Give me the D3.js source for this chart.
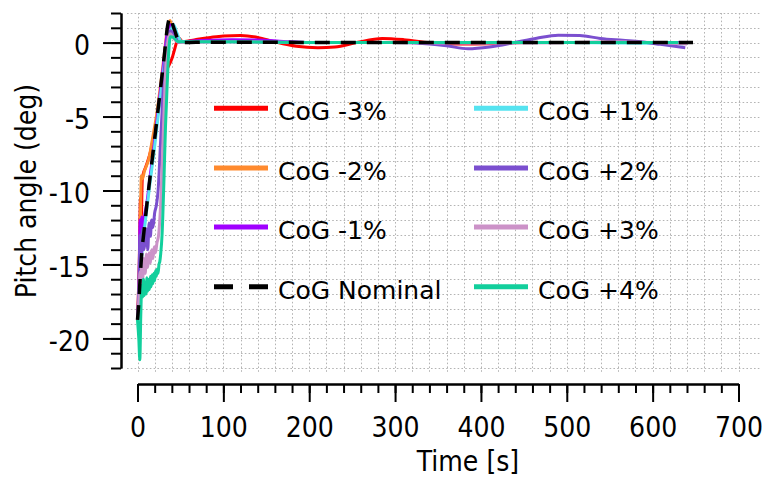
<!DOCTYPE html>
<html>
<head>
<meta charset="utf-8">
<script src="https://cdn.jsdelivr.net/npm/d3@7/dist/d3.min.js"></script>
<style>
  html, body { margin: 0; padding: 0; background: #fff; }
  svg { display: block; }
  .tick-label { font-family: 'DejaVu Sans Condensed', 'DejaVu Sans', sans-serif; font-stretch: condensed; font-size: 28px; fill: #000; }
  .axis-title { font-family: 'DejaVu Sans Condensed', 'DejaVu Sans', sans-serif; font-stretch: condensed; font-size: 28px; fill: #000; }
  .legend-text { font-family: 'DejaVu Sans', sans-serif; font-size: 25px; fill: #000; }
</style>
</head>
<body>
<svg id="chart" width="766" height="478"></svg>
<script>
// ---------------- DATA ----------------
const xMajorTicks = [0, 100, 200, 300, 400, 500, 600, 700];
const yMajorTicks = [-20, -15, -10, -5, 0];
const xDomain = [0, 700];
const yDomain = [-22, 2];

const seriesLabels = ["CoG -3%", "CoG -2%", "CoG -1%", "CoG Nominal", "CoG +1%", "CoG +2%", "CoG +3%", "CoG +4%"];
const seriesColors = ["#ff0000", "#ff8a2e", "#a000ff", "#000000", "#55e3f0", "#7b4fcf", "#cc92c8", "#12cf9c"];

const tM3 = [0, 2, 3.5, 4.5, 5.5, 7, 9, 12, 15, 19, 23, 27, 30.7, 32.6, 36, 40, 43, 46, 48.5, 52, 60, 70, 85, 100, 120, 140, 160, 185, 210, 230, 255, 285, 310, 340, 375, 410, 450, 500, 550, 600, 645];
const vM3 = [-18.75, -15, -10.5, -11.8, -9.3, -8.8, -8.5, -8.0, -7.4, -6.3, -5.0, -3.6, -2.4, -2.0, -1.6, -1.1, -0.5, 0.1, 0.3, 0.08, 0.12, 0.22, 0.35, 0.45, 0.48, 0.35, 0.05, -0.25, -0.35, -0.3, 0.0, 0.28, 0.2, 0.0, -0.1, -0.08, 0.0, 0.0, 0.0, 0.0, 0.0];

const tM2 = [0, 2, 3.5, 4.5, 6, 8, 10, 13, 16, 19, 23, 27, 31, 35, 38, 41, 45, 49, 55, 80, 120, 200, 300, 400, 500, 600, 645];
const vM2 = [-18.75, -16, -11.5, -9.0, -9.2, -8.7, -8.4, -7.9, -7.0, -6.0, -4.6, -2.8, -0.9, 1.0, 1.5, 0.8, 0.3, 0.0, 0.05, 0.08, 0.08, 0.0, 0.0, 0.0, 0.0, 0.0, 0.0];

const tM1 = [0, 2, 3, 4, 5, 6.5, 8, 11, 15, 19, 23, 27, 31, 35, 38, 41, 45, 49, 55, 80, 110, 140, 170, 200, 300, 400, 500, 600, 645];
const vM1 = [-18.75, -16, -12.0, -13.2, -11.8, -12.5, -11.8, -10.8, -8.9, -7.1, -5.1, -3.1, -1.1, 0.8, 1.2, 0.7, 0.3, 0.0, 0.05, 0.15, 0.2, 0.18, 0.08, 0.0, 0.0, 0.0, 0.0, 0.0, 0.0];

const tNom = [0, 1.5, 3, 5, 7.5, 11, 15, 19, 23, 27, 31, 35, 38.4, 41, 43.5, 47, 50, 56, 80, 150, 250, 350, 450, 550, 647];
const vNom = [-18.75, -17.6, -16.0, -14.2, -12.8, -10.9, -8.9, -7.0, -5.0, -3.0, -1.0, 1.1, 1.75, 1.2, 0.8, 0.2, 0.0, 0.0, 0.03, 0.02, 0.0, 0.0, 0.0, 0.0, 0.0];

const tP1 = [0, 2, 4, 6, 8, 11, 15, 19, 23, 27, 31, 35, 38, 40, 42, 45, 48, 52, 60, 100, 200, 300, 400, 500, 600, 636];
const vP1 = [-18.75, -17.5, -15.2, -13.6, -12.6, -11.2, -9.3, -7.5, -5.5, -3.5, -1.6, 0.1, 0.5, 1.0, 1.2, 0.8, 0.35, 0.05, 0.03, 0.05, 0.0, 0.0, 0.0, 0.0, -0.05, -0.1];

const tP2 = [0, 1.5, 3, 4.5, 6, 7.5, 9, 10.5, 12, 13.5, 15, 16.5, 18, 20, 22, 24, 26.8, 28.7, 30.7, 32.6, 35.5, 38, 40, 43, 47, 52, 60, 100, 150, 200, 250, 300, 340, 360, 385, 410, 439, 465, 490, 515, 539, 565, 586, 609, 638];
const vP2 = [-18.75, -16.5, -13.0, -14.5, -12.6, -14.0, -13.3, -12.6, -14.0, -12.2, -13.1, -12.0, -12.5, -11.5, -11.0, -10.0, -6.8, -4.6, -2.4, -0.8, 0.4, 0.8, 0.7, 0.35, 0.05, 0.0, 0.05, 0.08, 0.05, 0.0, 0.0, 0.0, -0.1, -0.22, -0.42, -0.3, 0.0, 0.3, 0.5, 0.48, 0.28, 0.15, 0.05, -0.12, -0.35];

const tP3 = [0, 1.5, 3, 4, 5, 6, 7.5, 9, 10.5, 12, 13.5, 15, 16.5, 18, 19.5, 21, 22.5, 24.8, 26.8, 28.7, 30.7, 32.6, 35.5, 38, 41, 45, 52, 60, 100, 200, 300, 400, 500, 560, 600, 640];
const vP3 = [-18.75, -17.5, -15.5, -16.8, -14.8, -16.0, -14.6, -15.6, -14.3, -15.2, -14.2, -14.9, -14.0, -14.6, -13.8, -14.2, -13.6, -12.9, -11.1, -8.4, -5.0, -2.1, 0.15, 0.6, 0.4, 0.1, 0.0, 0.03, 0.05, 0.0, 0.0, -0.05, 0.0, 0.05, 0.0, -0.1];

const tP4 = [0, 1.5, 2.7, 3.8, 5, 6, 7, 8, 9, 10, 11, 12, 13, 14, 15, 16, 17, 18, 19, 20, 21, 22, 23, 24, 25, 26, 27, 28.7, 30.7, 32.6, 34.6, 36.5, 38.4, 42, 46, 50, 60, 100, 200, 300, 400, 500, 600, 630];
const vP4 = [-18.75, -20.0, -21.45, -18.5, -16.4, -17.2, -16.0, -17.1, -16.2, -17.0, -15.9, -16.8, -16.0, -16.7, -15.8, -16.5, -15.7, -16.3, -15.6, -16.1, -15.4, -15.8, -15.3, -15.6, -15.0, -14.8, -14.3, -12.9, -9.5, -5.7, -2.8, -0.5, 0.4, 0.35, 0.1, 0.05, 0.05, 0.05, 0.0, 0.0, 0.0, 0.0, 0.0, 0.0];

const seriesTimes = [tM3, tM2, tM1, tNom, tP1, tP2, tP3, tP4];
const seriesValues = [vM3, vM2, vM1, vNom, vP1, vP2, vP3, vP4];

// ---------------- LAYOUT ----------------
const svg = d3.select("#chart");
const x = d3.scaleLinear().domain(xDomain).range([137.5, 738.5]);
const y = d3.scaleLinear().domain(yDomain).range([368, 13]);
const yAxisX = 121;
const xAxisY = 384;

const xMinor = d3.range(xDomain[0], xDomain[1] + 1, 20);
const yMinor = d3.range(yDomain[0], yDomain[1] + 1, 1);

// grid
const grid = svg.append("g").attr("stroke", "#b4b4b4").attr("stroke-width", 1).attr("stroke-dasharray", "1.6,2.2").attr("fill", "none");
grid.selectAll("line.h").data(yMinor).join("line").attr("class", "h")
  .attr("x1", 127).attr("x2", 760)
  .attr("y1", d => Math.round(y(d)) + 0.5).attr("y2", d => Math.round(y(d)) + 0.5);
grid.selectAll("line.v").data(xMinor).join("line").attr("class", "v")
  .attr("y1", 13).attr("y2", 373)
  .attr("x1", d => Math.round(x(d)) + 0.5).attr("x2", d => Math.round(x(d)) + 0.5);

// y axis: minor then major
const yAxisMinor = svg.append("g").attr("transform", `translate(${yAxisX},0)`)
  .call(d3.axisLeft(y).tickValues(yMinor).tickSize(10).tickSizeOuter(0).tickFormat(""));
const yAxisMajor = svg.append("g").attr("transform", `translate(${yAxisX},0)`)
  .call(d3.axisLeft(y).tickValues(yMajorTicks).tickSize(18).tickSizeOuter(0).tickPadding(13));
[yAxisMinor, yAxisMajor].forEach(g => {
  g.selectAll("path.domain").attr("stroke", "#000").attr("stroke-width", 2);
  g.selectAll(".tick line").attr("stroke", "#000").attr("stroke-width", 2);
});
yAxisMajor.selectAll(".tick text").attr("class", "tick-label").attr("dy", "0.44em").attr("x", -31)
  .text(d => d < 0 ? "-" + Math.abs(d) : d);

// x axis
const xAxisMinor = svg.append("g").attr("transform", `translate(0,${xAxisY})`)
  .call(d3.axisBottom(x).tickValues(xMinor).tickSize(9).tickSizeOuter(0).tickFormat(""));
const xAxisMajor = svg.append("g").attr("transform", `translate(0,${xAxisY})`)
  .call(d3.axisBottom(x).tickValues(xMajorTicks).tickSize(18).tickSizeOuter(0));
[xAxisMinor, xAxisMajor].forEach(g => {
  g.selectAll("path.domain").attr("stroke", "#000").attr("stroke-width", 2);
  g.selectAll(".tick line").attr("stroke", "#000").attr("stroke-width", 2);
});
xAxisMajor.selectAll(".tick text").attr("class", "tick-label").attr("y", 53).attr("dy", 0);

// axis titles
svg.append("text").attr("class", "axis-title").attr("x", 468).attr("y", 471).attr("text-anchor", "middle").text("Time [s]");
svg.append("text").attr("class", "axis-title").attr("transform", "translate(36,191) rotate(-90)").attr("text-anchor", "middle").text("Pitch angle (deg)");

// lines
const line = d3.line().x(d => x(d[0])).y(d => y(d[1])).curve(d3.curveMonotoneX);
const drawOrder = [0, 1, 2, 4, 5, 6, 7, 3];
const linesG = svg.append("g").attr("fill", "none");
drawOrder.forEach(i => {
  const pts = seriesTimes[i].map((t, k) => [t, seriesValues[i][k]]);
  linesG.append("path").datum(pts)
    .attr("d", line)
    .attr("stroke", seriesColors[i])
    .attr("stroke-width", i === 3 ? 3.5 : 3)
    .attr("stroke-linejoin", "round")
    .attr("stroke-dasharray", i === 3 ? "15,11" : null);
});

// legend
const legendCols = [214, 474];
const legendRows = [108.3, 168, 227, 286.7];
const legend = svg.append("g");
seriesLabels.forEach((lab, i) => {
  const cx = legendCols[Math.floor(i / 4)];
  const cy = legendRows[i % 4];
  legend.append("line")
    .attr("x1", cx).attr("x2", cx + 54).attr("y1", cy).attr("y2", cy)
    .attr("stroke", seriesColors[i]).attr("stroke-width", 5)
    .attr("stroke-dasharray", i === 3 ? "19,16" : null);
  legend.append("text").attr("class", "legend-text")
    .attr("x", cx + 64).attr("y", cy + 12).text(lab);
});
</script>
</body>
</html>
